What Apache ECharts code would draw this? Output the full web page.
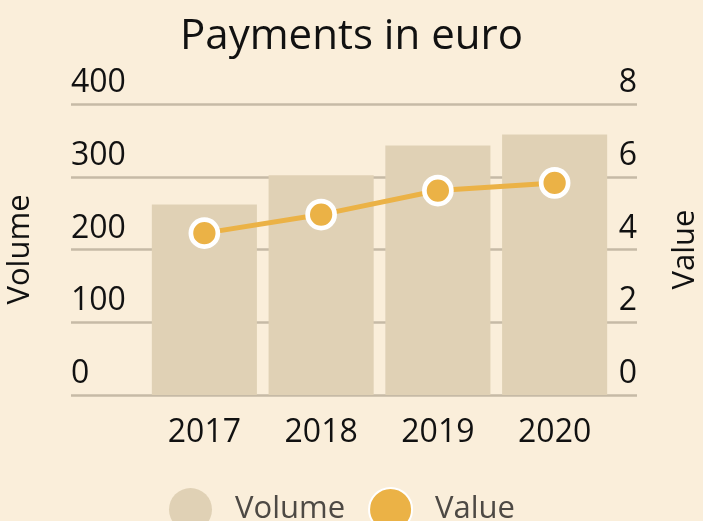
<!DOCTYPE html>
<html>
<head>
<meta charset="utf-8">
<script src="https://cdn.jsdelivr.net/npm/echarts@6/dist/echarts.min.js"></script>
<style>
    html, body { margin: 0; padding: 0; background: #FAEEDA; }
    #chart { width: 703px; height: 521px; }
</style>
</head>
<body>
<div id="chart"></div>
<script>
var years = ['2017', '2018', '2019', '2020'];
var volume = [262, 302, 343, 358];
var value = [4.45, 4.96, 5.62, 5.83];
var volumeAxis = {min: 0, max: 400, interval: 100};
var valueAxis = {min: 0, max: 8, interval: 2};

var FONT = 'Open Sans';
var gridLine = '#C6BAA6';

var box = echarts.init(document.getElementById('chart'));
var option = {
    backgroundColor: '#FAEEDA',
    textStyle: {fontFamily: FONT},
    title: {
        text: 'Payments in euro',
        left: 'center',
        top: 11,
        textStyle: {fontFamily: FONT, fontSize: 42, fontWeight: 'normal', color: '#111'}
    },
    legend: {
        data: ['Volume', 'Value'],
        left: 164,
        top: 482,
        icon: 'circle',
        itemWidth: 43,
        itemHeight: 43,
        itemGap: 23,
        textStyle: {fontFamily: FONT, fontSize: 31, color: '#4D4944', padding: [4, 0, 0, 18]}
    },
    // grid 0: split lines + y labels, grid 1: bars, line and year labels
    grid: [
        {left: 71, right: 66, top: 104, bottom: 126, outerBoundsMode: 'none'},
        {left: 146, right: 90, top: 104, bottom: 126, outerBoundsMode: 'none'}
    ],
    xAxis: [
        {type: 'category', gridIndex: 0, data: years, show: false},
        {
            type: 'category', gridIndex: 1, data: years,
            axisLine: {show: false},
            axisTick: {show: false},
            axisLabel: {fontFamily: FONT, fontSize: 32, color: '#111', margin: 22}
        }
    ],
    yAxis: [
        {
            type: 'value', gridIndex: 0, position: 'left',
            min: volumeAxis.min, max: volumeAxis.max, interval: volumeAxis.interval,
            name: 'Volume', nameLocation: 'middle', nameGap: 35,
            nameTextStyle: {fontFamily: FONT, fontSize: 31, color: '#111'},
            axisLine: {show: false},
            axisTick: {show: false},
            splitLine: {lineStyle: {color: gridLine, width: 2.5}},
            axisLabel: {
                inside: true, margin: 0, align: 'left', verticalAlign: 'bottom',
                padding: [0, 0, 5, 0],
                fontFamily: FONT, fontSize: 32, color: '#111'
            }
        },
        {
            type: 'value', gridIndex: 0, position: 'right',
            min: valueAxis.min, max: valueAxis.max, interval: valueAxis.interval,
            name: 'Value', nameLocation: 'middle', nameGap: 33,
            nameTextStyle: {fontFamily: FONT, fontSize: 31, color: '#111'},
            axisLine: {show: false},
            axisTick: {show: false},
            splitLine: {show: false},
            axisLabel: {
                inside: true, margin: 0, align: 'right', verticalAlign: 'bottom',
                padding: [0, 0, 5, 0],
                fontFamily: FONT, fontSize: 32, color: '#111'
            }
        },
        {
            type: 'value', gridIndex: 1,
            min: volumeAxis.min, max: volumeAxis.max, interval: volumeAxis.interval,
            show: false
        },
        {
            type: 'value', gridIndex: 1,
            min: valueAxis.min, max: valueAxis.max, interval: valueAxis.interval,
            show: false
        }
    ],
    series: [
        {
            name: 'Volume',
            type: 'bar',
            xAxisIndex: 1,
            yAxisIndex: 2,
            barCategoryGap: '10%',
            itemStyle: {color: '#E0D1B5'},
            data: volume
        },
        {
            name: 'Value',
            type: 'line',
            xAxisIndex: 1,
            yAxisIndex: 3,
            symbol: 'circle',
            symbolSize: 27,
            lineStyle: {color: '#EBB246', width: 5},
            itemStyle: {color: '#EBB246', borderColor: '#fff', borderWidth: 4.7},
            data: value
        }
    ]
};
box.setOption(option);
</script>
</body>
</html>
